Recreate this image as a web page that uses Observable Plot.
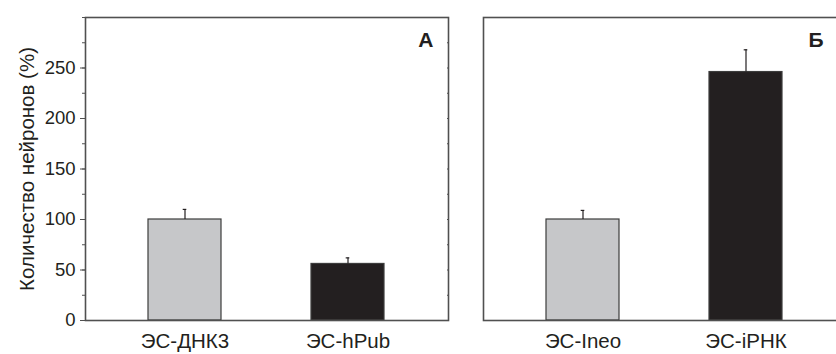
<!DOCTYPE html>
<html>
<head>
<meta charset="utf-8">
<script src="https://cdn.jsdelivr.net/npm/d3@7"></script>
<script src="https://cdn.jsdelivr.net/npm/@observablehq/plot@0.6"></script>
<style>
  html, body { margin: 0; padding: 0; background: #fff; overflow: hidden; }
  body { width: 836px; height: 354px; font-family: "Liberation Sans", Arial, sans-serif; }
  #wrap { position: relative; width: 836px; height: 354px; overflow: hidden; }
  .panel { position: absolute; top: 0; height: 354px; overflow: hidden; }
  .panel svg { max-width: none !important; display: block; }
</style>
</head>
<body>
<div id="wrap">
  <div id="pa" class="panel" style="left:0px; width:460px"></div>
  <div id="pb" class="panel" style="left:470px; width:366px"></div>
</div>
<script>
// ---- data ----
const categoriesA = ["ЭС-ДНК3", "ЭС-hPub"];
const valuesA = [100, 56];
const errorsA = [10, 6];

const categoriesB = ["ЭС-Ineo", "ЭС-iРНК"];
const valuesB = [100, 246];
const errorsB = [9, 22];

const yTickLabels = [0, 50, 100, 150, 200, 250];
const yMinorTicks = [0, 25, 50, 75, 100, 125, 150, 175, 200, 225, 250, 275, 300];
const panelLabels = ["А", "Б"];
const yTitle = "Количество нейронов (%)";
const barColors = ["#c6c7c9", "#231f20"];

const FONT = '"Liberation Sans", Arial, sans-serif';
const INK = "#231f20";
const AXIS = "#505050";

function panel(cats, vals, errs, label, opts) {
  const data = cats.map((c, i) => ({ c, v: vals[i], top: vals[i] + errs[i] }));
  const marks = [
    Plot.barY(data, { x: "c", y: "v", fill: "c", stroke: "#3c3c3c", strokeWidth: 1.2 }),
    Plot.ruleX(data, { x: "c", y1: "v", y2: "top", stroke: INK, strokeWidth: 1.2 }),
    Plot.tickY(data, { x: "c", y: "top", stroke: INK, strokeWidth: 1.2, insetLeft: 34.7, insetRight: 34.7 }),
    Plot.frame({ stroke: AXIS, strokeWidth: 1.6 }),
    Plot.axisX({ tickSize: 0, tickPadding: 13, fontSize: 20.5, fill: INK, fontFamily: FONT }),
    Plot.text([label], {
      text: d => d, frameAnchor: "top-right", dx: opts.labelDx, dy: 15,
      fontSize: 21, fontWeight: "bold", fill: INK, fontFamily: FONT, lineAnchor: "top", textAnchor: "end"
    })
  ];
  if (opts.showY) {
    marks.push(
      Plot.axisY({ ticks: yMinorTicks, tickSize: 3, tickFormat: () => "", stroke: AXIS }),
      Plot.axisY({ ticks: yTickLabels, tickSize: 5, tickPadding: 5, fontSize: 18.5, fill: INK, stroke: AXIS, fontFamily: FONT }),
      Plot.axisY({ anchor: "right", ticks: yMinorTicks, tickSize: 2, insetRight: 2, tickFormat: () => "", stroke: AXIS }),
      Plot.text([yTitle], {
        text: d => d, frameAnchor: "left", dx: -58, rotate: -90, textAnchor: "middle",
        fontSize: 20.5, fill: INK, fontFamily: FONT
      })
    );
  }
  return Plot.plot({
    width: opts.width,
    height: 354,
    marginLeft: opts.marginLeft,
    marginRight: opts.marginRight,
    marginTop: 17,
    marginBottom: 34,
    style: { fontFamily: FONT, background: "transparent", overflow: "visible", maxWidth: "none" },
    x: { domain: cats, paddingInner: 0.552, paddingOuter: 0.383, axis: null, label: null },
    y: { domain: [0, 300], axis: null, label: null },
    color: { domain: cats, range: barColors },
    marks
  });
}

document.getElementById("pa").append(
  panel(categoriesA, valuesA, errorsA, panelLabels[0], { width: 460, marginLeft: 85, marginRight: 12, showY: true, labelDx: -15 })
);
document.getElementById("pb").append(
  panel(categoriesB, valuesB, errorsB, panelLabels[1], { width: 390, marginLeft: 13, marginRight: 14, showY: false, labelDx: -23 })
);
</script>
</body>
</html>
